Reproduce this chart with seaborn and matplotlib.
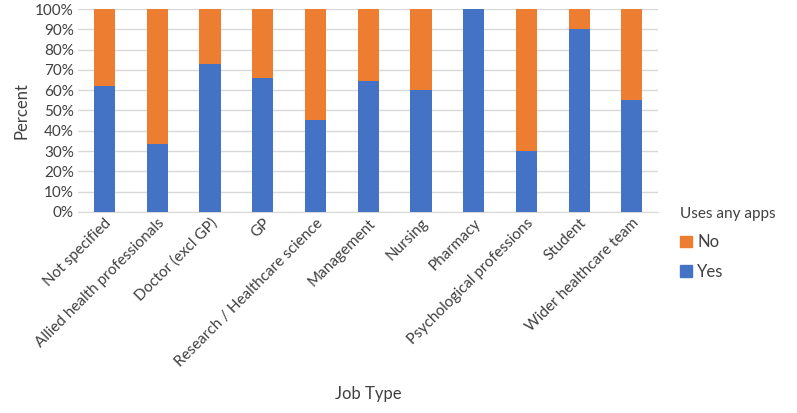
import pandas as pd
import matplotlib.pyplot as plt
import seaborn as sns
from matplotlib.patches import Patch
from matplotlib.ticker import PercentFormatter

# data
job_types = ['Not specified', 'Allied health professionals', 'Doctor (excl GP)', 'GP',
             'Research / Healthcare science', 'Management', 'Nursing', 'Pharmacy',
             'Psychological professions', 'Student', 'Wider healthcare team']
yes_pct = [62.1, 33.5, 73.0, 65.8, 45.5, 64.6, 60.2, 100.0, 30.2, 90.0, 55.0]
no_pct = [100 - v for v in yes_pct]

df = pd.DataFrame({'Job Type': job_types, 'Yes': yes_pct, 'No': no_pct})
df['Total'] = df['Yes'] + df['No']

sns.set_style("white")
plt.rcParams['font.family'] = ['Lato', 'DejaVu Sans']

blue = '#4472C4'
orange = '#ED7D31'

fig = plt.figure(figsize=(7.97, 4.13), dpi=100)
ax = fig.add_axes([0.098, 0.487, 0.728, 0.491])

# stacked: full bar in orange, yes part in blue over it
sns.barplot(data=df, x='Job Type', y='Total', color=orange, width=0.4,
            saturation=1, linewidth=0, ax=ax, zorder=2)
sns.barplot(data=df, x='Job Type', y='Yes', color=blue, width=0.4,
            saturation=1, linewidth=0, ax=ax, zorder=3)

ax.set_ylim(0, 100)
ax.set_yticks(range(0, 101, 10))
ax.yaxis.set_major_formatter(PercentFormatter(decimals=0))
ax.yaxis.grid(True, color='#D9D9D9', linewidth=1, zorder=0)
ax.set_axisbelow(True)
for s in ['top', 'right', 'left']:
    ax.spines[s].set_visible(False)
ax.spines['bottom'].set_color('#D9D9D9')
ax.tick_params(axis='both', length=0, labelsize=11, colors='#404040', pad=3)
ax.set_xticks(range(len(job_types)))
ax.set_xticklabels(job_types, rotation=45, ha='right', rotation_mode='anchor')
ax.set_ylabel('Percent', fontsize=12, color='#404040')
ax.set_xlabel('Job Type', fontsize=12, color='#404040')
ax.xaxis.set_label_coords(0.5, -0.86)

handles = [Patch(color=orange, label='No'), Patch(color=blue, label='Yes')]
leg = fig.legend(handles=handles, title='Uses any apps', loc='upper left',
                 bbox_to_anchor=(0.835, 0.535), frameon=False, fontsize=12,
                 title_fontsize=11, handlelength=0.7, handleheight=0.7,
                 handletextpad=0.3, labelspacing=0.8)
leg._legend_box.align = 'left'
for t in leg.get_texts():
    t.set_color('#404040')
leg.get_title().set_color('#404040')

fig.savefig('out.png', dpi=100)
